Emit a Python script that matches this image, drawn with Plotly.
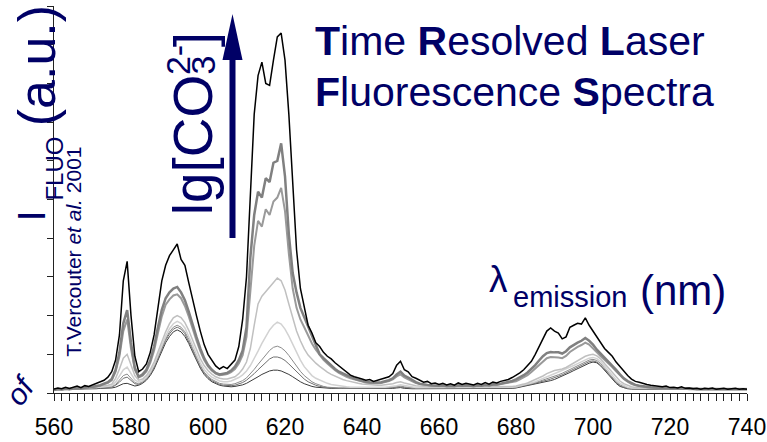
import plotly.graph_objects as go

wavelength = list(range(560, 741))

# Spectra (arbitrary intensity units, 0-10 on the axis)
black_top = [
    0.10, 0.13, 0.11, 0.15, 0.12, 0.16, 0.18, 0.14, 0.19, 0.17,
    0.21, 0.24, 0.30, 0.33, 0.41, 0.55, 0.85, 1.50, 2.90, 3.40,
    2.00, 0.95, 0.55, 0.62, 0.75, 1.05, 1.50, 2.20, 2.90, 3.30,
    3.55, 3.70, 3.85, 3.45, 3.30, 2.85, 2.40, 2.00, 1.60, 1.25,
    1.00, 0.85, 0.70, 0.62, 0.68, 0.63, 0.75, 0.85, 1.20, 1.90,
    3.00, 5.20, 7.20, 8.20, 8.55, 8.00, 7.95, 8.60, 9.20, 9.30,
    8.60, 7.20, 5.30, 3.70, 2.70, 2.20, 1.75, 1.55, 1.30, 1.20,
    1.05, 0.95, 0.88, 0.78, 0.70, 0.60, 0.52, 0.46, 0.42, 0.38,
    0.36, 0.33, 0.35, 0.30, 0.33, 0.34, 0.38, 0.42, 0.50, 0.72,
    0.82, 0.60, 0.55, 0.42, 0.38, 0.32, 0.28, 0.30, 0.24, 0.26,
    0.22, 0.25, 0.21, 0.24, 0.20, 0.26, 0.22, 0.25, 0.23, 0.21,
    0.25, 0.22, 0.27, 0.23, 0.28, 0.26, 0.30, 0.32, 0.35, 0.40,
    0.45, 0.52, 0.60, 0.70, 0.82, 1.00, 1.20, 1.40, 1.60, 1.68,
    1.60, 1.55, 1.40, 1.45, 1.70, 1.75, 1.80, 1.78, 1.94, 1.75,
    1.60, 1.45, 1.30, 1.15, 1.05, 0.95, 0.80, 0.68, 0.55, 0.45,
    0.36, 0.30, 0.28, 0.24, 0.22, 0.20, 0.18, 0.17, 0.16, 0.18,
    0.14, 0.15, 0.13, 0.16, 0.12, 0.13, 0.11, 0.12, 0.10, 0.12,
    0.11, 0.13, 0.10, 0.11, 0.12, 0.10, 0.11, 0.12, 0.10, 0.11,
    0.10,
]

gray_1 = [
    0.08, 0.10, 0.09, 0.11, 0.10, 0.12, 0.13, 0.12, 0.14, 0.15,
    0.16, 0.18, 0.20, 0.24, 0.28, 0.36, 0.60, 1.05, 1.80, 2.14,
    1.30, 0.65, 0.42, 0.48, 0.60, 0.85, 1.20, 1.70, 2.15, 2.45,
    2.60, 2.70, 2.74, 2.60, 2.40, 2.10, 1.75, 1.45, 1.15, 0.90,
    0.72, 0.60, 0.52, 0.48, 0.50, 0.52, 0.58, 0.68, 0.85, 1.10,
    1.70, 3.50, 4.60, 5.20, 5.05, 5.55, 5.45, 5.95, 6.00, 6.45,
    5.60, 4.10, 3.10, 2.60, 2.20, 1.95, 1.70, 1.45, 1.20, 1.00,
    0.90, 0.80, 0.70, 0.62, 0.55, 0.50, 0.45, 0.41, 0.37, 0.34,
    0.31, 0.29, 0.28, 0.27, 0.27, 0.28, 0.30, 0.33, 0.38, 0.48,
    0.55, 0.45, 0.40, 0.33, 0.28, 0.24, 0.22, 0.21, 0.20, 0.19,
    0.19, 0.20, 0.18, 0.19, 0.18, 0.20, 0.19, 0.20, 0.19, 0.18,
    0.20, 0.19, 0.21, 0.20, 0.22, 0.22, 0.24, 0.26, 0.28, 0.31,
    0.35, 0.40, 0.46, 0.53, 0.62, 0.72, 0.84, 0.95, 1.03, 1.06,
    1.05, 1.05, 1.02, 1.08, 1.18, 1.25, 1.30, 1.35, 1.42, 1.35,
    1.25, 1.12, 1.02, 0.92, 0.82, 0.72, 0.60, 0.48, 0.38, 0.31,
    0.25, 0.21, 0.19, 0.17, 0.16, 0.15, 0.14, 0.14, 0.13, 0.13,
    0.12, 0.12, 0.12, 0.11, 0.11, 0.11, 0.11, 0.10, 0.10, 0.10,
    0.10, 0.10, 0.10, 0.10, 0.10, 0.10, 0.10, 0.10, 0.10, 0.10,
    0.10,
]

gray_2 = [
    0.08, 0.10, 0.09, 0.11, 0.10, 0.12, 0.12, 0.12, 0.13, 0.14,
    0.15, 0.17, 0.19, 0.22, 0.26, 0.33, 0.55, 0.95, 1.60, 1.90,
    1.15, 0.60, 0.40, 0.45, 0.56, 0.78, 1.10, 1.55, 1.98, 2.28,
    2.42, 2.52, 2.55, 2.45, 2.25, 1.98, 1.65, 1.36, 1.08, 0.85,
    0.69, 0.58, 0.50, 0.46, 0.47, 0.49, 0.54, 0.62, 0.76, 0.98,
    1.45, 2.60, 3.80, 4.45, 4.30, 4.75, 4.60, 4.95, 5.05, 5.30,
    4.70, 3.60, 2.70, 2.20, 1.90, 1.70, 1.48, 1.28, 1.12, 0.98,
    0.86, 0.76, 0.67, 0.59, 0.52, 0.46, 0.42, 0.38, 0.35, 0.32,
    0.29, 0.27, 0.26, 0.25, 0.25, 0.26, 0.28, 0.31, 0.35, 0.43,
    0.48, 0.40, 0.35, 0.30, 0.26, 0.23, 0.21, 0.20, 0.19, 0.18,
    0.18, 0.19, 0.17, 0.18, 0.17, 0.19, 0.18, 0.19, 0.18, 0.17,
    0.19, 0.18, 0.20, 0.19, 0.21, 0.21, 0.23, 0.25, 0.27, 0.29,
    0.30, 0.35, 0.40, 0.46, 0.54, 0.63, 0.73, 0.82, 0.90, 0.93,
    0.93, 0.92, 0.90, 0.96, 1.06, 1.13, 1.19, 1.24, 1.30, 1.25,
    1.16, 1.05, 0.95, 0.86, 0.77, 0.67, 0.56, 0.45, 0.36, 0.29,
    0.23, 0.20, 0.18, 0.16, 0.15, 0.14, 0.13, 0.13, 0.12, 0.12,
    0.12, 0.11, 0.11, 0.11, 0.11, 0.10, 0.10, 0.10, 0.10, 0.10,
    0.10, 0.10, 0.10, 0.10, 0.10, 0.10, 0.10, 0.10, 0.10, 0.10,
    0.10,
]

light_1 = [
    0.10, 0.11, 0.11, 0.12, 0.12, 0.12, 0.13, 0.13, 0.14, 0.14,
    0.15, 0.16, 0.17, 0.18, 0.20, 0.23, 0.38, 0.62, 0.90, 1.00,
    0.72, 0.45, 0.33, 0.36, 0.45, 0.60, 0.80, 1.06, 1.33, 1.58,
    1.79, 1.94, 2.00, 1.95, 1.82, 1.62, 1.37, 1.12, 0.89, 0.71,
    0.58, 0.49, 0.42, 0.38, 0.36, 0.36, 0.38, 0.42, 0.50, 0.62,
    0.80, 1.15, 1.75, 2.30, 2.50, 2.62, 2.76, 2.85, 2.97, 2.90,
    2.66, 2.30, 1.95, 1.60, 1.35, 1.14, 0.98, 0.86, 0.77, 0.69,
    0.61, 0.54, 0.48, 0.43, 0.39, 0.35, 0.32, 0.29, 0.27, 0.25,
    0.23, 0.22, 0.21, 0.20, 0.20, 0.20, 0.21, 0.22, 0.24, 0.27,
    0.29, 0.26, 0.23, 0.21, 0.19, 0.18, 0.17, 0.17, 0.16, 0.16,
    0.16, 0.16, 0.16, 0.16, 0.16, 0.16, 0.16, 0.16, 0.16, 0.16,
    0.16, 0.16, 0.16, 0.16, 0.16, 0.16, 0.16, 0.17, 0.17, 0.17,
    0.18, 0.20, 0.23, 0.26, 0.30, 0.34, 0.39, 0.44, 0.50, 0.55,
    0.58, 0.60, 0.62, 0.66, 0.72, 0.78, 0.84, 0.89, 0.95, 0.98,
    1.00, 0.96, 0.88, 0.76, 0.64, 0.52, 0.41, 0.31, 0.24, 0.19,
    0.16, 0.14, 0.13, 0.13, 0.12, 0.12, 0.12, 0.12, 0.12, 0.12,
    0.11, 0.11, 0.11, 0.11, 0.11, 0.11, 0.11, 0.11, 0.11, 0.11,
    0.11, 0.11, 0.11, 0.11, 0.11, 0.11, 0.11, 0.11, 0.11, 0.11,
    0.11,
]

light_2 = [
    0.10, 0.10, 0.11, 0.11, 0.11, 0.12, 0.12, 0.12, 0.13, 0.13,
    0.14, 0.14, 0.15, 0.16, 0.17, 0.19, 0.28, 0.43, 0.60, 0.67,
    0.50, 0.34, 0.28, 0.32, 0.40, 0.54, 0.73, 0.98, 1.23, 1.47,
    1.66, 1.79, 1.85, 1.80, 1.68, 1.48, 1.24, 1.00, 0.78, 0.61,
    0.49, 0.41, 0.35, 0.31, 0.29, 0.29, 0.31, 0.35, 0.40, 0.47,
    0.57, 0.71, 0.88, 1.08, 1.28, 1.47, 1.63, 1.75, 1.83, 1.78,
    1.65, 1.47, 1.26, 1.04, 0.85, 0.68, 0.55, 0.45, 0.38, 0.33,
    0.29, 0.25, 0.22, 0.20, 0.18, 0.17, 0.16, 0.15, 0.15, 0.14,
    0.14, 0.14, 0.14, 0.14, 0.14, 0.14, 0.15, 0.16, 0.17, 0.19,
    0.21, 0.19, 0.17, 0.15, 0.14, 0.14, 0.14, 0.14, 0.14, 0.14,
    0.14, 0.14, 0.14, 0.14, 0.14, 0.14, 0.14, 0.14, 0.14, 0.14,
    0.14, 0.14, 0.14, 0.14, 0.14, 0.14, 0.14, 0.15, 0.15, 0.15,
    0.16, 0.18, 0.20, 0.23, 0.26, 0.29, 0.33, 0.37, 0.41, 0.45,
    0.49, 0.53, 0.57, 0.61, 0.66, 0.71, 0.76, 0.81, 0.86, 0.90,
    0.92, 0.89, 0.81, 0.69, 0.57, 0.45, 0.34, 0.25, 0.19, 0.15,
    0.13, 0.12, 0.12, 0.12, 0.12, 0.12, 0.12, 0.12, 0.12, 0.12,
    0.11, 0.11, 0.11, 0.11, 0.11, 0.11, 0.11, 0.11, 0.11, 0.11,
    0.11, 0.11, 0.11, 0.11, 0.11, 0.11, 0.11, 0.11, 0.11, 0.11,
    0.11,
]

gray_3 = [
    0.09, 0.10, 0.10, 0.10, 0.11, 0.11, 0.11, 0.12, 0.12, 0.12,
    0.13, 0.13, 0.14, 0.14, 0.15, 0.16, 0.22, 0.33, 0.45, 0.49,
    0.37, 0.27, 0.24, 0.29, 0.37, 0.50, 0.69, 0.93, 1.17, 1.40,
    1.58, 1.70, 1.75, 1.70, 1.58, 1.39, 1.15, 0.92, 0.71, 0.54,
    0.43, 0.35, 0.29, 0.25, 0.23, 0.22, 0.22, 0.24, 0.27, 0.32,
    0.39, 0.49, 0.61, 0.74, 0.87, 0.99, 1.10, 1.18, 1.21, 1.17,
    1.09, 0.97, 0.83, 0.69, 0.56, 0.45, 0.36, 0.29, 0.24, 0.20,
    0.17, 0.15, 0.14, 0.13, 0.13, 0.13, 0.13, 0.13, 0.13, 0.13,
    0.13, 0.13, 0.13, 0.13, 0.13, 0.13, 0.13, 0.14, 0.15, 0.17,
    0.18, 0.16, 0.14, 0.13, 0.13, 0.13, 0.13, 0.13, 0.13, 0.13,
    0.13, 0.13, 0.13, 0.13, 0.13, 0.13, 0.13, 0.13, 0.13, 0.13,
    0.13, 0.13, 0.13, 0.13, 0.13, 0.13, 0.13, 0.13, 0.13, 0.14,
    0.15, 0.17, 0.19, 0.21, 0.24, 0.27, 0.30, 0.33, 0.36, 0.40,
    0.43, 0.47, 0.51, 0.56, 0.61, 0.66, 0.71, 0.76, 0.81, 0.85,
    0.87, 0.84, 0.76, 0.64, 0.52, 0.40, 0.29, 0.21, 0.16, 0.13,
    0.12, 0.12, 0.12, 0.12, 0.12, 0.12, 0.12, 0.12, 0.12, 0.12,
    0.12, 0.12, 0.12, 0.12, 0.12, 0.12, 0.12, 0.12, 0.12, 0.12,
    0.12, 0.12, 0.12, 0.12, 0.12, 0.12, 0.12, 0.12, 0.12, 0.12,
    0.12,
]

gray_4 = [
    0.09, 0.09, 0.10, 0.10, 0.10, 0.11, 0.11, 0.11, 0.12, 0.12,
    0.12, 0.13, 0.13, 0.14, 0.14, 0.15, 0.20, 0.28, 0.38, 0.41,
    0.32, 0.24, 0.22, 0.27, 0.35, 0.48, 0.66, 0.90, 1.13, 1.36,
    1.53, 1.65, 1.70, 1.65, 1.53, 1.34, 1.11, 0.88, 0.67, 0.51,
    0.40, 0.32, 0.26, 0.22, 0.20, 0.19, 0.19, 0.20, 0.23, 0.27,
    0.33, 0.41, 0.50, 0.60, 0.70, 0.80, 0.88, 0.93, 0.93, 0.90,
    0.84, 0.75, 0.65, 0.54, 0.44, 0.36, 0.29, 0.24, 0.20, 0.17,
    0.15, 0.14, 0.13, 0.12, 0.12, 0.12, 0.12, 0.12, 0.12, 0.12,
    0.12, 0.12, 0.12, 0.12, 0.12, 0.12, 0.12, 0.13, 0.14, 0.15,
    0.16, 0.14, 0.13, 0.12, 0.12, 0.12, 0.12, 0.12, 0.12, 0.12,
    0.12, 0.12, 0.12, 0.12, 0.12, 0.12, 0.12, 0.12, 0.12, 0.12,
    0.12, 0.12, 0.12, 0.12, 0.12, 0.12, 0.12, 0.12, 0.12, 0.13,
    0.14, 0.16, 0.18, 0.20, 0.22, 0.25, 0.28, 0.30, 0.33, 0.36,
    0.39, 0.43, 0.47, 0.52, 0.57, 0.62, 0.67, 0.72, 0.77, 0.81,
    0.83, 0.80, 0.72, 0.60, 0.48, 0.37, 0.27, 0.19, 0.14, 0.12,
    0.11, 0.11, 0.11, 0.11, 0.11, 0.11, 0.11, 0.11, 0.11, 0.11,
    0.11, 0.11, 0.11, 0.11, 0.11, 0.11, 0.11, 0.11, 0.11, 0.11,
    0.11, 0.11, 0.11, 0.11, 0.11, 0.11, 0.11, 0.11, 0.11, 0.11,
    0.11,
]

dark_bottom = [
    0.08, 0.08, 0.09, 0.09, 0.09, 0.10, 0.10, 0.10, 0.10, 0.11,
    0.11, 0.11, 0.12, 0.12, 0.12, 0.13, 0.15, 0.19, 0.24, 0.25,
    0.21, 0.18, 0.20, 0.25, 0.33, 0.45, 0.62, 0.85, 1.08, 1.30,
    1.46, 1.58, 1.63, 1.58, 1.46, 1.28, 1.06, 0.84, 0.64, 0.48,
    0.37, 0.29, 0.24, 0.20, 0.18, 0.17, 0.16, 0.17, 0.19, 0.21,
    0.25, 0.30, 0.36, 0.42, 0.48, 0.53, 0.57, 0.59, 0.59, 0.57,
    0.53, 0.48, 0.42, 0.35, 0.29, 0.24, 0.20, 0.17, 0.15, 0.14,
    0.13, 0.12, 0.12, 0.12, 0.12, 0.11, 0.11, 0.11, 0.11, 0.11,
    0.11, 0.11, 0.11, 0.11, 0.11, 0.11, 0.11, 0.11, 0.12, 0.13,
    0.14, 0.12, 0.11, 0.11, 0.11, 0.11, 0.11, 0.11, 0.11, 0.11,
    0.11, 0.11, 0.11, 0.11, 0.11, 0.11, 0.11, 0.11, 0.11, 0.11,
    0.11, 0.11, 0.11, 0.11, 0.11, 0.11, 0.11, 0.11, 0.11, 0.12,
    0.13, 0.15, 0.17, 0.19, 0.21, 0.23, 0.25, 0.27, 0.29, 0.32,
    0.35, 0.39, 0.43, 0.48, 0.53, 0.58, 0.63, 0.68, 0.73, 0.77,
    0.80, 0.78, 0.70, 0.58, 0.47, 0.36, 0.25, 0.17, 0.13, 0.11,
    0.10, 0.10, 0.10, 0.10, 0.10, 0.10, 0.10, 0.10, 0.10, 0.10,
    0.10, 0.10, 0.10, 0.10, 0.10, 0.10, 0.10, 0.10, 0.10, 0.10,
    0.10, 0.10, 0.10, 0.10, 0.10, 0.10, 0.10, 0.10, 0.10, 0.10,
    0.10,
]

x_tick_values = [560, 580, 600, 620, 640, 660, 680, 700, 720, 740]
x_tick_labels = ["560", "580", "600", "620", "640", "660", "680", "700", "720", "740"]

NAVY = "#000066"
FONT = "Liberation Sans, Arial, sans-serif"

# drawing order: faint curves first, black on top
series = [
    (dark_bottom, "#3c3c3c", 1.0),
    (gray_4, "#707070", 1.0),
    (gray_3, "#8c8c8c", 1.0),
    (light_2, "#d2d2d2", 1.5),
    (light_1, "#c0c0c0", 1.5),
    (gray_2, "#9a9a9a", 2.0),
    (gray_1, "#808080", 2.5),
    (black_top, "#000000", 1.5),
]

fig = go.Figure()
for ys, color, width in series:
    assert len(ys) == len(wavelength)
    fig.add_trace(go.Scatter(x=wavelength, y=ys, mode="lines",
                             line=dict(color=color, width=width),
                             showlegend=False, hoverinfo="skip"))

W, H = 767, 442
L, R, T, B = 54, 20, 6, 49
PW, PH = W - L - R, H - T - B


def px(xp):
    return (xp - L) / PW


def py(yp):
    return (H - B - yp) / PH


annotations = []


def text(s, x, y, size, xanchor="left", yanchor="middle", angle=0, color=NAVY):
    annotations.append(dict(text=s, x=px(x), y=py(y), xref="paper", yref="paper",
                            showarrow=False, xanchor=xanchor, yanchor=yanchor,
                            textangle=angle, font=dict(family=FONT, size=size, color=color)))


# title block
text("<b>T</b>ime <b>R</b>esolved <b>L</b>aser", 313, 55 - 0.35 * 41, 41)
text("<b>F</b>luorescence <b>S</b>pectra", 313, 106 - 0.35 * 41, 41)

# x-axis title
text("λ", 487, 292 - 0.35 * 37, 37)
text("emission", 511, 307 - 0.35 * 29, 29)
text("(nm)", 638, 305 - 0.35 * 42, 42)

# y-axis title (rotated)
text("I", 45 - 0.35 * 39, 216, 39, xanchor="center", yanchor="middle", angle=-90)
text("FLUO", 63 - 0.35 * 24, 203, 24, xanchor="center", yanchor="bottom", angle=-90)
text("(a.u.)", 55 - 0.35 * 52, 128, 52, xanchor="center", yanchor="bottom", angle=-90)

# citation
text("T.Vercouter <i>et al.</i> 2001", 80 - 0.35 * 21, 359, 21,
     xanchor="center", yanchor="bottom", angle=-90)

# lg[CO3 2-]
text("lg[CO", 213 - 0.35 * 55, 217, 55, xanchor="center", yanchor="bottom", angle=-90)
text("3", 214 - 0.35 * 34, 77, 34, xanchor="center", yanchor="bottom", angle=-90)
text("2-", 190 - 0.35 * 34, 77, 34, xanchor="center", yanchor="bottom", angle=-90)
text("]", 213 - 0.35 * 55, 49, 55, xanchor="center", yanchor="bottom", angle=-90)

# partly visible glyph at bottom-left
text("<i>of</i>", 20, 390, 30, xanchor="center", yanchor="middle", angle=-55)

shapes = [
    dict(type="line", xref="paper", yref="paper", x0=px(232.5), x1=px(232.5),
         y0=py(238), y1=py(56), line=dict(color=NAVY, width=6)),
    dict(type="path", xref="paper", yref="paper",
         path=f"M {px(222.5)},{py(60)} L {px(242.5)},{py(60)} L {px(232.5)},{py(14)} Z",
         fillcolor=NAVY, line=dict(color=NAVY, width=0)),
]

fig.update_layout(
    width=W, height=H,
    margin=dict(l=L, r=R, t=T, b=B, pad=0),
    paper_bgcolor="white", plot_bgcolor="white",
    annotations=annotations, shapes=shapes,
    xaxis=dict(range=[560, 740], tickvals=x_tick_values, ticktext=x_tick_labels,
               automargin=False, ticklabeloverflow="allow",
               ticks="outside", ticklen=7, tickwidth=1, tickcolor="#222",
               showline=True, linecolor="#222", linewidth=1,
               showgrid=False, zeroline=False,
               minor=dict(dtick=2, ticks="outside", ticklen=7, tickwidth=1, tickcolor="#222", showgrid=False),
               tickfont=dict(family=FONT, size=23, color="black"),
               ticklabelstandoff=6),
    yaxis=dict(range=[0, 10], dtick=1, tick0=0, ticks="outside", ticklen=6, tickwidth=1,
               automargin=False,
               tickcolor="#222", showticklabels=False, showline=True, linecolor="#222",
               linewidth=1, showgrid=False, zeroline=False),
)

fig.write_html("out.html")
